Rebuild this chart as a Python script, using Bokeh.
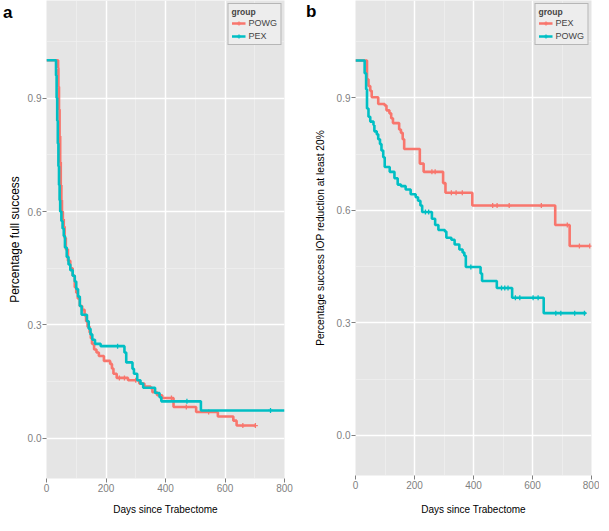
import numpy as np
from bokeh.plotting import figure
from bokeh.layouts import row
from bokeh.models import (FixedTicker, Range1d, Legend, LegendItem, LinearAxis,
                          PrintfTickFormatter, CustomJSTickFormatter)
from bokeh.embed import file_html
from bokeh.resources import INLINE

# ---------------- data ----------------
x_ticks = [0, 200, 400, 600, 800]
x_minor = [100, 300, 500, 700]
y_ticks = [0.0, 0.3, 0.6, 0.9]
y_minor = [-0.15, 0.15, 0.45, 0.75, 1.05]

# Panel a : full success
a_powg_days = [0, 39, 40, 42, 44, 46, 48, 50, 52, 55, 58, 61, 65, 72, 80, 88, 95, 100,
               105, 112, 120, 128, 133, 138, 145, 149, 153, 160, 168, 176, 193, 214,
               220, 225, 236, 274, 312, 329, 350, 356, 372, 389, 427, 503, 576, 628,
               639, 702]
a_powg_surv = [1.0, 0.98, 0.93, 0.87, 0.80, 0.73, 0.67, 0.63, 0.60, 0.58, 0.56, 0.53,
               0.50, 0.47, 0.45, 0.43, 0.40, 0.385, 0.37, 0.35, 0.34, 0.325, 0.31,
               0.295, 0.28, 0.265, 0.25, 0.235, 0.227, 0.218, 0.205, 0.197, 0.185,
               0.171, 0.16, 0.154, 0.145, 0.137, 0.133, 0.122, 0.114, 0.107, 0.083,
               0.07, 0.058, 0.047, 0.034, 0.034]
a_powg_cens = [245, 262, 300, 420, 470, 545, 660, 702]

a_pex_days = [0, 32, 34, 36, 38, 40, 42, 44, 46, 50, 54, 58, 62, 68, 74, 80, 88, 95,
              100, 106, 112, 118, 136, 142, 148, 154, 163, 182, 262, 268, 289, 294,
              305, 316, 325, 365, 380, 386, 519, 800]
a_pex_surv = [1.0, 0.96, 0.90, 0.84, 0.78, 0.72, 0.67, 0.63, 0.60, 0.575, 0.555, 0.535,
              0.505, 0.48, 0.46, 0.445, 0.43, 0.415, 0.395, 0.375, 0.35, 0.327, 0.31,
              0.29, 0.275, 0.261, 0.25, 0.244, 0.227, 0.201, 0.184, 0.171, 0.154,
              0.145, 0.134, 0.12, 0.109, 0.098, 0.074, 0.074]
a_pex_cens = [239, 472, 753]

# Panel b : IOP reduction at least 20%
b_pex_days = [0, 39, 44, 50, 55, 77, 99, 105, 115, 121, 127, 148, 154, 160, 165, 218,
              231, 297, 305, 396, 677, 726, 795]
b_pex_surv = [1.0, 0.95, 0.932, 0.919, 0.902, 0.884, 0.88, 0.867, 0.859, 0.846, 0.833,
              0.816, 0.807, 0.79, 0.764, 0.725, 0.703, 0.673, 0.647, 0.613, 0.561,
              0.505, 0.505]
b_pex_cens = [259, 270, 325, 341, 362, 465, 480, 521, 630, 718, 759, 794]

b_powg_days = [0, 31, 36, 39, 44, 50, 61, 64, 72, 77, 83, 88, 94, 99, 116, 132, 143,
               154, 170, 187, 204, 212, 220, 226, 259, 270, 281, 303, 308, 325, 336,
               352, 363, 369, 374, 424, 429, 479, 531, 638, 781]
b_powg_surv = [1.0, 0.966, 0.923, 0.872, 0.85, 0.837, 0.828, 0.811, 0.803, 0.79, 0.777,
               0.76, 0.742, 0.716, 0.703, 0.686, 0.669, 0.665, 0.656, 0.643, 0.635,
               0.626, 0.613, 0.596, 0.578, 0.561, 0.548, 0.544, 0.527, 0.522, 0.509,
               0.496, 0.488, 0.479, 0.449, 0.432, 0.412, 0.393, 0.367, 0.326, 0.326]
b_powg_cens = [237, 248, 391, 495, 506, 517, 542, 557, 602, 619, 679, 696, 743, 776]

RED = "#F8766D"
TEAL = "#00BFC4"
FONT = "Liberation Sans"


def surv_at(days, surv, t):
    d = np.asarray(days, dtype=float)
    s = np.asarray(surv, dtype=float)
    idx = np.searchsorted(d, np.asarray(t, dtype=float), side="right") - 1
    return s[idx]


def make_panel(series, ylabel, yrange, fw, fh, bl, br, bb, ylab_size,
               xlab_standoff, ylab_standoff, letter, letter_y, letter_standoff):
    p = figure(frame_width=fw, frame_height=fh, x_range=Range1d(0, 800),
               y_range=Range1d(*yrange), output_backend="svg",
               toolbar_location=None, min_border_left=bl, min_border_right=br,
               min_border_top=0, min_border_bottom=bb)
    p.background_fill_color = "#E5E5E5"
    p.border_fill_color = "white"
    p.outline_line_color = None

    p.xaxis.ticker = FixedTicker(ticks=x_ticks, minor_ticks=x_minor)
    p.yaxis.ticker = FixedTicker(ticks=y_ticks, minor_ticks=y_minor)
    p.yaxis.formatter = PrintfTickFormatter(format="%.1f")
    for ax in (p.xaxis, p.yaxis):
        ax.axis_line_color = None
        ax.major_tick_line_color = "#7F7F7F"
        ax.major_tick_out = 4
        ax.major_tick_in = 0
        ax.minor_tick_line_color = None
        ax.major_label_text_color = "#7F7F7F"
        ax.major_label_text_font_size = "10px"
        ax.major_label_text_font = FONT
        ax.major_label_standoff = 1
        ax.axis_label_text_font = FONT
        ax.axis_label_text_font_style = "normal"
        ax.axis_label_text_color = "black"
    p.xaxis.axis_label = "Days since Trabectome"
    p.xaxis.axis_label_text_font_size = "10px"
    p.xaxis.axis_label_standoff = xlab_standoff
    p.yaxis.axis_label = ylabel
    p.yaxis.axis_label_text_font_size = ylab_size
    p.yaxis.axis_label_standoff = ylab_standoff

    # panel letter, drawn as the only tick label of an outer, invisible axis
    lax = LinearAxis(ticker=FixedTicker(ticks=[letter_y], minor_ticks=[]),
                     formatter=CustomJSTickFormatter(code="return '%s';" % letter))
    lax.axis_line_color = None
    lax.major_tick_line_color = None
    lax.minor_tick_line_color = None
    lax.major_tick_out = 0
    lax.major_tick_in = 0
    lax.major_label_standoff = letter_standoff
    lax.major_label_text_font = FONT
    lax.major_label_text_font_size = "17px"
    lax.major_label_text_font_style = "bold"
    lax.major_label_text_color = "black"
    p.add_layout(lax, "left")

    for g in (p.xgrid, p.ygrid):
        g.grid_line_color = "white"
        g.grid_line_width = 1.5
        g.minor_grid_line_color = "#F2F2F2"
        g.minor_grid_line_width = 0.6

    items = []
    for name, days, surv, cens, color in series:
        ln = p.step(x=days, y=surv, mode="after", line_color=color, line_width=2.6)
        cy = surv_at(days, surv, cens)
        mk = p.scatter(x=cens, y=cy, marker="cross", size=5, line_color=color,
                       line_width=1.3)
        items.append(LegendItem(label=name, renderers=[ln, mk]))

    legend = Legend(items=items, location="top_right", title="group",
                    title_text_font_style="bold", title_text_font_size="8.5px",
                    title_text_font=FONT, title_standoff=1,
                    label_text_font_size="9px", label_text_font=FONT,
                    glyph_width=14, glyph_height=10, label_height=10,
                    label_standoff=3, spacing=3, padding=3, margin=3,
                    border_line_color="#7F7F7F", border_line_width=1,
                    background_fill_color="#EDEDED", background_fill_alpha=1.0)
    p.add_layout(legend)
    return p


pa = make_panel(
    [("POWG", a_powg_days, a_powg_surv, a_powg_cens, RED),
     ("PEX", a_pex_days, a_pex_surv, a_pex_cens, TEAL)],
    "Percentage full success", (-0.106, 1.158), 238, 478, 40, 18, 37, "12px",
    9, 3, "a", 1.127, -8)

pb = make_panel(
    [("PEX", b_pex_days, b_pex_surv, b_pex_cens, RED),
     ("POWG", b_powg_days, b_powg_surv, b_powg_cens, TEAL)],
    "Percentage success IOP reduction at least 20%", (-0.107, 1.16), 236, 475, 53, 8,
    40, "10.2px", 12, 8, "b", 1.131, -5)

layout = row(pa, pb)
open("out.html", "w").write(file_html(layout, INLINE))
